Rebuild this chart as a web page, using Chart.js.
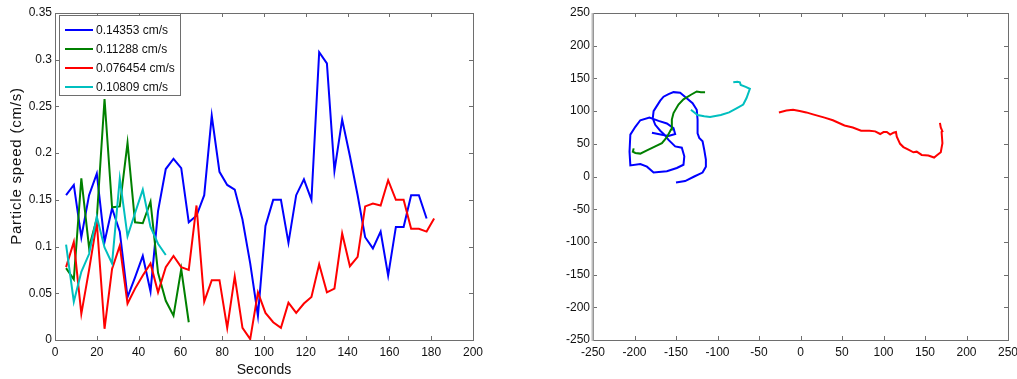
<!DOCTYPE html>
<html>
<head>
<meta charset="utf-8">
<script src="https://cdn.jsdelivr.net/npm/chart.js@4/dist/chart.umd.min.js"></script>
<style>
  html, body { margin: 0; padding: 0; background: #fff; overflow: hidden; width: 1017px; height: 379px; }
  canvas { position: absolute; top: 0; }
  #left { left: 0; }
  #right { left: 520px; }
</style>
</head>
<body>
<canvas id="left" width="500" height="379"></canvas>
<canvas id="right" width="510" height="379"></canvas>
<script>
// ---------- data: left panel (speed vs time) ----------
const seconds = [5.3, 9.0, 12.6, 16.3, 20.0, 23.7, 27.3, 31.0, 34.7, 38.3, 42.0, 45.7, 49.3, 53.0, 56.7, 60.4,
  64.0, 67.7, 71.4, 75.0, 78.7, 82.4, 86.0, 89.7, 93.4, 97.1, 100.7, 104.4, 108.1, 111.7, 115.4, 119.1,
  122.7, 126.4, 130.1, 133.7, 137.4, 141.1, 144.8, 148.4, 152.1, 155.8, 159.4, 163.1, 166.8, 170.4, 174.1,
  177.8, 181.4];
const speedBlue = [0.155, 0.166, 0.110, 0.155, 0.178, 0.105, 0.141, 0.116, 0.046, 0.067, 0.090, 0.052, 0.138,
  0.183, 0.194, 0.184, 0.126, 0.133, 0.155, 0.240, 0.180, 0.166, 0.161, 0.129, 0.082, 0.026, 0.122, 0.150,
  0.150, 0.104, 0.155, 0.172, 0.150, 0.308, 0.296, 0.181, 0.236, 0.197, 0.155, 0.110, 0.098, 0.116, 0.069,
  0.121, 0.121, 0.155, 0.155, 0.130];
const speedGreen = [0.077, 0.065, 0.173, 0.099, 0.130, 0.258, 0.142, 0.143, 0.211, 0.126, 0.125, 0.148, 0.072,
  0.042, 0.026, 0.076, 0.019];
const speedRed = [0.078, 0.105, 0.028, 0.075, 0.126, 0.012, 0.076, 0.101, 0.039, 0.055, 0.069, 0.082, 0.051,
  0.078, 0.090, 0.078, 0.075, 0.144, 0.041, 0.064, 0.064, 0.013, 0.068, 0.013, 0.001, 0.051, 0.029, 0.019,
  0.013, 0.040, 0.029, 0.039, 0.046, 0.081, 0.051, 0.055, 0.114, 0.079, 0.089, 0.143, 0.146, 0.144, 0.171,
  0.150, 0.150, 0.119, 0.119, 0.116, 0.130];
const speedCyan = [0.102, 0.041, 0.073, 0.092, 0.132, 0.099, 0.082, 0.173, 0.111, 0.136, 0.161, 0.121, 0.103, 0.091];
const legendLabels = ['0.14353 cm/s', '0.11288 cm/s', '0.076454 cm/s', '0.10809 cm/s'];
const secondTicks = [0, 20, 40, 60, 80, 100, 120, 140, 160, 180, 200];
const speedTicks = [0, 0.05, 0.1, 0.15, 0.2, 0.25, 0.3, 0.35];

// ---------- data: right panel (trajectories) ----------
const trackBlueX = [-150, -139, -128, -118, -114, -114, -116, -118, -122, -124, -124, -125, -130, -141, -145,
  -153, -159, -165, -169, -173, -177, -178, -175, -169, -164, -159, -151, -143, -140, -141, -149, -161, -177,
  -185, -193, -205, -206, -205, -199, -193, -182, -171, -161, -153, -151, -159, -167, -179];
const trackBlueY = [-9, -7, 0, 6, 15, 26, 41, 54, 59, 66, 87, 102, 112, 124, 128, 129, 126, 122, 116, 108, 100,
  89, 79, 70, 64, 56, 46, 44, 31, 18, 13, 8, 6, 15, 19, 17, 38, 64, 76, 86, 90, 85, 81, 74, 65, 62, 64, 67];
const trackGreenX = [-201, -202, -199, -193, -185, -175, -167, -161, -156, -155, -153, -147, -141, -132, -125, -120, -115];
const trackGreenY = [43, 38, 36, 35, 40, 46, 51, 60, 72, 87, 97, 110, 118, 125, 130, 129, 129];
const trackRedX = [-26, -17, -9, -1, 7, 15, 29, 39, 53, 63, 73, 83, 90, 96, 100, 104, 108, 112, 115, 116, 120,
  124, 130, 136, 140, 146, 154, 161, 164, 169, 171, 170, 171, 169, 168];
const trackRedY = [98, 101, 102, 100, 98, 95, 90, 86, 78, 75, 70, 70, 69, 65, 68, 68, 64, 67, 68, 61, 50, 45,
  41, 37, 38, 33, 32, 29, 32, 37, 51, 68, 69, 75, 82];
const trackCyanX = [-132, -124, -116, -109, -96, -86, -76, -69, -65, -61, -66, -72, -73, -76, -81];
const trackCyanY = [102, 94, 92, 91, 94, 98, 105, 110, 120, 134, 137, 140, 144, 145, 144];
const posTicks = [-250, -200, -150, -100, -50, 0, 50, 100, 150, 200, 250];

// ---------- helpers ----------
const COLORS = ['#0000ff', '#008000', '#ff0000', '#00bfbf'];
const FONT = '"Liberation Sans", Arial, Helvetica, sans-serif';
const zip = (xs, ys) => ys.map((y, i) => ({ x: xs[i], y: y }));

function setTicks(arr) {
  return function (axis) { axis.ticks = arr.map(v => ({ value: v })); };
}

// frame + inward tick marks (MATLAB box style)
const frame = {
  id: 'frame',
  afterDatasetsDraw(chart, args, opts) {
    const { ctx, chartArea: a, scales } = chart;
    ctx.save();
    ctx.strokeStyle = '#6e6e6e';
    ctx.lineWidth = 1;
    const L = 4;
    const sx = scales.x, sy = scales.y;
    ctx.beginPath();
    sx.ticks.forEach(t => {
      const p = Math.round(sx.getPixelForValue(t.value)) + 0.5;
      ctx.moveTo(p, a.bottom); ctx.lineTo(p, a.bottom - L);
      ctx.moveTo(p, a.top); ctx.lineTo(p, a.top + L);
    });
    sy.ticks.forEach(t => {
      const p = Math.round(sy.getPixelForValue(t.value)) + 0.5;
      ctx.moveTo(a.left, p); ctx.lineTo(a.left + L, p);
      ctx.moveTo(a.right, p); ctx.lineTo(a.right - L, p);
    });
    ctx.stroke();
    ctx.strokeRect(Math.round(a.left) + 0.5, Math.round(a.top) + 0.5,
      Math.round(a.right - a.left), Math.round(a.bottom - a.top));
    if (opts && opts.greyLeft) {
      ctx.strokeStyle = '#bdbdbd';
      ctx.lineWidth = 2;
      ctx.beginPath();
      ctx.moveTo(Math.round(a.left) - 0.5, a.top);
      ctx.lineTo(Math.round(a.left) - 0.5, a.bottom + 1);
      ctx.stroke();
    }
    ctx.restore();
  }
};

// legend box inside the left panel + y-axis title
const extras = {
  id: 'extras',
  afterDraw(chart, args, opts) {
    if (!opts || !opts.enabled) return;
    const ctx = chart.ctx;
    ctx.save();
    // legend
    ctx.fillStyle = '#fff';
    ctx.fillRect(59.5, 15.5, 121, 80);
    ctx.strokeStyle = '#6e6e6e';
    ctx.lineWidth = 1;
    ctx.strokeRect(59.5, 15.5, 121, 80);
    ctx.font = '12px ' + FONT;
    ctx.textBaseline = 'middle';
    ctx.textAlign = 'left';
    chart.data.datasets.forEach((ds, i) => {
      const y = 30 + i * 19;
      ctx.strokeStyle = ds.borderColor;
      ctx.lineWidth = 2;
      ctx.beginPath();
      ctx.moveTo(65, y); ctx.lineTo(93, y);
      ctx.stroke();
      ctx.fillStyle = '#111';
      ctx.fillText(ds.label, 96, y + 0.5);
    });
    // y title
    ctx.translate(17, 166);
    ctx.rotate(-Math.PI / 2);
    ctx.font = '15px ' + FONT;
    ctx.letterSpacing = '0.8px';
    ctx.textAlign = 'center';
    ctx.textBaseline = 'middle';
    ctx.fillStyle = '#111';
    ctx.fillText('Particle speed (cm/s)', 0, 0);
    ctx.restore();
  }
};

function lineDs(label, data, color, order) {
  return {
    label: label, data: data, borderColor: color, backgroundColor: color,
    showLine: true, pointRadius: 0, borderWidth: 2, tension: 0, order: order,
    borderJoinStyle: 'miter', fill: false
  };
}

const tickFont = { family: FONT, size: 12 };
const noGrid = { display: false, drawTicks: false, tickLength: 0 };

// ---------- left chart ----------
new Chart(document.getElementById('left'), {
  type: 'scatter',
  data: {
    datasets: [
      lineDs(legendLabels[0], zip(seconds, speedBlue), COLORS[0], 3),
      lineDs(legendLabels[1], zip(seconds, speedGreen), COLORS[1], 2),
      lineDs(legendLabels[2], zip(seconds, speedRed), COLORS[2], 1),
      lineDs(legendLabels[3], zip(seconds, speedCyan), COLORS[3], 0)
    ]
  },
  plugins: [frame, extras],
  options: {
    responsive: false, animation: false, devicePixelRatio: 1,
    layout: { padding: { left: 0, top: 13, right: 27, bottom: 0 } },
    plugins: { legend: { display: false }, tooltip: { enabled: false }, extras: { enabled: true }, frame: {} },
    scales: {
      x: {
        type: 'linear', min: 0, max: 200,
        afterBuildTicks: setTicks(secondTicks),
        afterFit: s => { s.height = 39; },
        grid: noGrid, border: { display: false },
        ticks: { font: tickFont, color: '#111', padding: 5, maxRotation: 0, callback: v => String(v) },
        title: { display: true, text: 'Seconds', font: { family: FONT, size: 14 }, color: '#111', padding: { top: 0, bottom: 0 } }
      },
      y: {
        type: 'linear', min: 0, max: 0.35,
        afterBuildTicks: setTicks(speedTicks),
        afterFit: s => { s.width = 55; },
        grid: noGrid, border: { display: false },
        ticks: { font: tickFont, color: '#111', padding: 3, callback: v => String(v) }
      }
    }
  }
});

// ---------- right chart ----------
new Chart(document.getElementById('right'), {
  type: 'scatter',
  data: {
    datasets: [
      lineDs('blue', zip(trackBlueX, trackBlueY), COLORS[0], 3),
      lineDs('green', zip(trackGreenX, trackGreenY), COLORS[1], 2),
      lineDs('red', zip(trackRedX, trackRedY), COLORS[2], 1),
      lineDs('cyan', zip(trackCyanX, trackCyanY), COLORS[3], 0)
    ]
  },
  plugins: [frame],
  options: {
    responsive: false, animation: false, devicePixelRatio: 1,
    layout: { padding: { left: 0, top: 13, right: 22, bottom: 0 } },
    plugins: { legend: { display: false }, tooltip: { enabled: false }, frame: { greyLeft: true } },
    scales: {
      x: {
        type: 'linear', min: -250, max: 250,
        afterBuildTicks: setTicks(posTicks),
        afterFit: s => { s.height = 39; },
        grid: noGrid, border: { display: false },
        ticks: { font: tickFont, color: '#111', padding: 5, maxRotation: 0, callback: v => String(v) }
      },
      y: {
        type: 'linear', min: -250, max: 250,
        afterBuildTicks: setTicks(posTicks),
        afterFit: s => { s.width = 73; },
        grid: noGrid, border: { display: false },
        ticks: { font: tickFont, color: '#111', padding: 3, callback: v => String(v) }
      }
    }
  }
});
</script>
</body>
</html>
